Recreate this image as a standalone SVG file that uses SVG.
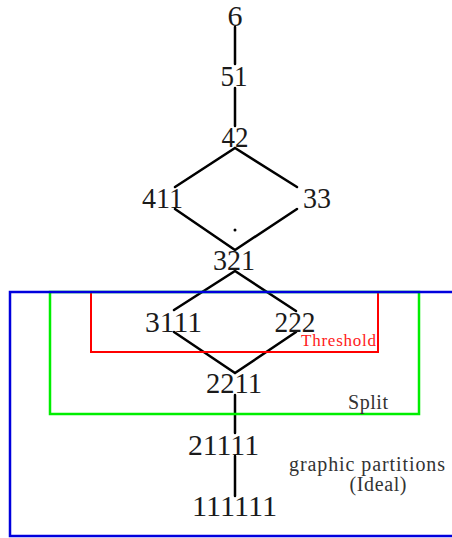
<svg xmlns="http://www.w3.org/2000/svg" width="452" height="538" viewBox="0 0 452 538">
<style>
.n{font-family:"Liberation Serif","DejaVu Serif",serif;font-size:30px;fill:#1a1a1a;text-anchor:middle}
.e{stroke:#000;stroke-width:2.5;fill:none;stroke-linecap:round}
.lab{font-family:"Liberation Serif","DejaVu Serif",serif;fill:#333}
</style>
<rect width="452" height="538" fill="#fff"/>
<g id="edges">
<line class="e" x1="235" y1="27" x2="235" y2="64"/>
<line class="e" x1="235" y1="88" x2="235" y2="126"/>
<polyline class="e" points="175,187 235,148 297,187"/>
<polyline class="e" points="175,209 235,250 297,209"/>
<polyline class="e" points="174,310 235,271 296,311"/>
<polyline class="e" points="174,332 235,373 296,332"/>
<line class="e" x1="235" y1="395" x2="235" y2="433"/>
<line class="e" x1="235" y1="456" x2="235" y2="496"/>
</g>
<circle cx="235" cy="230" r="1.5" fill="#000"/>
<g id="regions">
<rect id="threshold" x="91" y="292" width="287" height="60" fill="none" stroke="#ff0000" stroke-width="2"/>
<rect id="split" x="50" y="292" width="369" height="122" fill="none" stroke="#00ee00" stroke-width="2.5"/>
<rect id="ideal" x="10" y="292" width="450" height="244" fill="none" stroke="#0000dd" stroke-width="2.5"/>
<text class="lab" x="376" y="346" font-size="17" style="fill:#ff2020" text-anchor="end" textLength="75">Threshold</text>
<text class="lab" x="368" y="409" font-size="20" text-anchor="middle" textLength="40">Split</text>
<text class="lab" x="367" y="471" font-size="20" text-anchor="middle" textLength="156">graphic partitions</text>
<text class="lab" x="378" y="491" font-size="20" text-anchor="middle" textLength="57">(Ideal)</text>
</g>
<g id="n6"><text class="n" x="235" y="26">6</text></g>
<g id="n51"><text class="n" x="234" y="86" textLength="27" lengthAdjust="spacingAndGlyphs">51</text></g>
<g id="n42"><text class="n" x="235" y="147" textLength="27" lengthAdjust="spacingAndGlyphs">42</text></g>
<g id="n411"><text class="n" x="162.5" y="208" textLength="41" lengthAdjust="spacingAndGlyphs">411</text></g>
<g id="n33"><text class="n" x="317" y="208" textLength="28" lengthAdjust="spacingAndGlyphs">33</text></g>
<g id="n321"><text class="n" x="234" y="270" textLength="42" lengthAdjust="spacingAndGlyphs">321</text></g>
<g id="n3111"><text class="n" x="173.5" y="332" textLength="57" lengthAdjust="spacingAndGlyphs">3111</text></g>
<g id="n222"><text class="n" x="295" y="332" textLength="41" lengthAdjust="spacingAndGlyphs">222</text></g>
<g id="n2211"><text class="n" x="234" y="393" textLength="56" lengthAdjust="spacingAndGlyphs">2211</text></g>
<g id="n21111"><text class="n" x="223.5" y="455" textLength="71" lengthAdjust="spacingAndGlyphs">21111</text></g>
<g id="n111111"><text class="n" x="234.5" y="516" textLength="85" lengthAdjust="spacingAndGlyphs">111111</text></g>
</svg>
